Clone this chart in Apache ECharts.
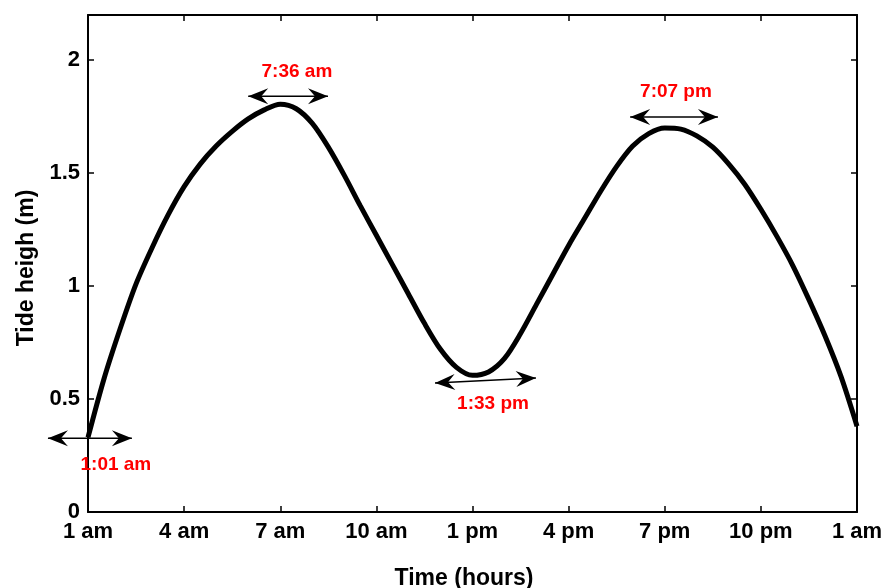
<!DOCTYPE html>
<html><head><meta charset="utf-8">
<script src="https://cdn.jsdelivr.net/npm/echarts@6/dist/echarts.min.js"></script>
<style>html,body{margin:0;padding:0;background:#fff}#c{width:894px;height:588px}</style>
</head><body><div id="c"></div>
<script>
// ---- data ----
const hours = [0,0.5,1,1.5,2,2.5,3,3.5,4,4.5,5,5.5,6,6.5,7,7.5,8,8.5,9,9.5,10,10.5,11,11.5,12,12.5,13,13.5,14,14.5,15,15.5,16,16.5,17,17.5,18,18.5,19,19.5,20,20.5,21,21.5,22,22.5,23,23.5,24];
const tide = [0.33,0.59,0.81,1.01,1.17,1.315,1.44,1.54,1.62,1.685,1.74,1.78,1.805,1.785,1.72,1.615,1.49,1.355,1.225,1.095,0.965,0.835,0.72,0.64,0.605,0.62,0.68,0.79,0.92,1.05,1.18,1.30,1.42,1.53,1.62,1.675,1.70,1.695,1.665,1.615,1.54,1.45,1.34,1.22,1.09,0.94,0.78,0.60,0.38];
const xTickLabels = ['1 am','4 am','7 am','10 am','1 pm','4 pm','7 pm','10 pm','1 am'];
const annotLabels = ['1:01 am','7:36 am','1:33 pm','7:07 pm'];
const arrowFrom = [[-1.25,0.327],[5.0,1.84],[10.83,0.571],[16.92,1.748]];
const arrowTo   = [[1.37,0.327],[7.49,1.84],[13.98,0.593],[19.66,1.748]];
const labelAt   = [[0.87,0.21],[6.52,1.95],[12.64,0.478],[18.35,1.86]];

const FONT = '"Liberation Sans", Arial, sans-serif';
const chart = echarts.init(document.getElementById('c'), null, {renderer:'canvas'});

const axLine = {show:true, onZero:false, lineStyle:{color:'#000', width:2}};
const axTick = {show:true, inside:true, length:6, lineStyle:{color:'#000', width:1.5}};
const lblStyle = {color:'#000', fontWeight:'bold', fontSize:22, fontFamily:FONT};

const option = {
  animation:false,
  backgroundColor:'#fff',
  grid:{left:88, right:37, top:15, bottom:76, containLabel:false, outerBoundsMode:'none'},
  xAxis:[
    {type:'value', position:'bottom', min:0, max:24, interval:3,
     axisLine:axLine, axisTick:axTick, splitLine:{show:false},
     axisLabel:Object.assign({margin:9, formatter:v=>xTickLabels[Math.round(v/3)]}, lblStyle),
     name:'Time (hours)', nameLocation:'middle', nameGap:55,
     nameTextStyle:{color:'#000', fontWeight:'bold', fontSize:23, fontFamily:FONT, padding:[0,17,0,0]}},
    {type:'value', position:'top', min:0, max:24, interval:3,
     axisLine:axLine, axisTick:axTick, splitLine:{show:false}, axisLabel:{show:false}}
  ],
  yAxis:[
    {type:'value', position:'left', min:0, max:2.2, interval:0.5,
     axisLine:axLine, axisTick:axTick, splitLine:{show:false},
     axisLabel:Object.assign({margin:8, formatter:v=> v>2.05 ? '' : String(v)}, lblStyle),
     name:'Tide heigh (m)', nameLocation:'middle', nameGap:50,
     nameTextStyle:{color:'#000', fontWeight:'bold', fontSize:23, fontFamily:FONT, padding:[0,9,0,0]}},
    {type:'value', position:'right', min:0, max:2.2, interval:0.5,
     axisLine:axLine, axisTick:axTick, splitLine:{show:false}, axisLabel:{show:false}}
  ],
  series:[{
    type:'line', xAxisIndex:0, yAxisIndex:0,
    data:hours.map((h,i)=>[h,tide[i]]),
    showSymbol:false, smooth:0.3, clip:false,
    lineStyle:{color:'#000', width:5}
  }]
};
chart.setOption(option);

function headPts(tip, from){
  const dx = tip[0]-from[0], dy = tip[1]-from[1];
  const len = Math.hypot(dx,dy); const ux=dx/len, uy=dy/len;
  const L=20, W=8, N=7;
  const px=-uy, py=ux;
  const bx=tip[0]-ux*L, by=tip[1]-uy*L;
  const nx=tip[0]-ux*(L-N), ny=tip[1]-uy*(L-N);
  return [tip,[bx+px*W,by+py*W],[nx,ny],[bx-px*W,by-py*W]];
}
const g = [];
for (let i=0;i<annotLabels.length;i++){
  const a = chart.convertToPixel({xAxisIndex:0,yAxisIndex:0}, arrowFrom[i]);
  const b = chart.convertToPixel({xAxisIndex:0,yAxisIndex:0}, arrowTo[i]);
  const t = chart.convertToPixel({xAxisIndex:0,yAxisIndex:0}, labelAt[i]);
  g.push({type:'line', shape:{x1:a[0],y1:a[1],x2:b[0],y2:b[1]}, style:{stroke:'#000', lineWidth:1.5}, z:10});
  g.push({type:'polygon', shape:{points:headPts(a,b)}, style:{fill:'#000'}, z:10});
  g.push({type:'polygon', shape:{points:headPts(b,a)}, style:{fill:'#000'}, z:10});
  g.push({type:'text', x:t[0], y:t[1], style:{text:annotLabels[i], fill:'#ff0000', font:'bold 19px '+FONT, align:'center', verticalAlign:'middle'}, z:10});
}
chart.setOption({graphic:g});
</script></body></html>
